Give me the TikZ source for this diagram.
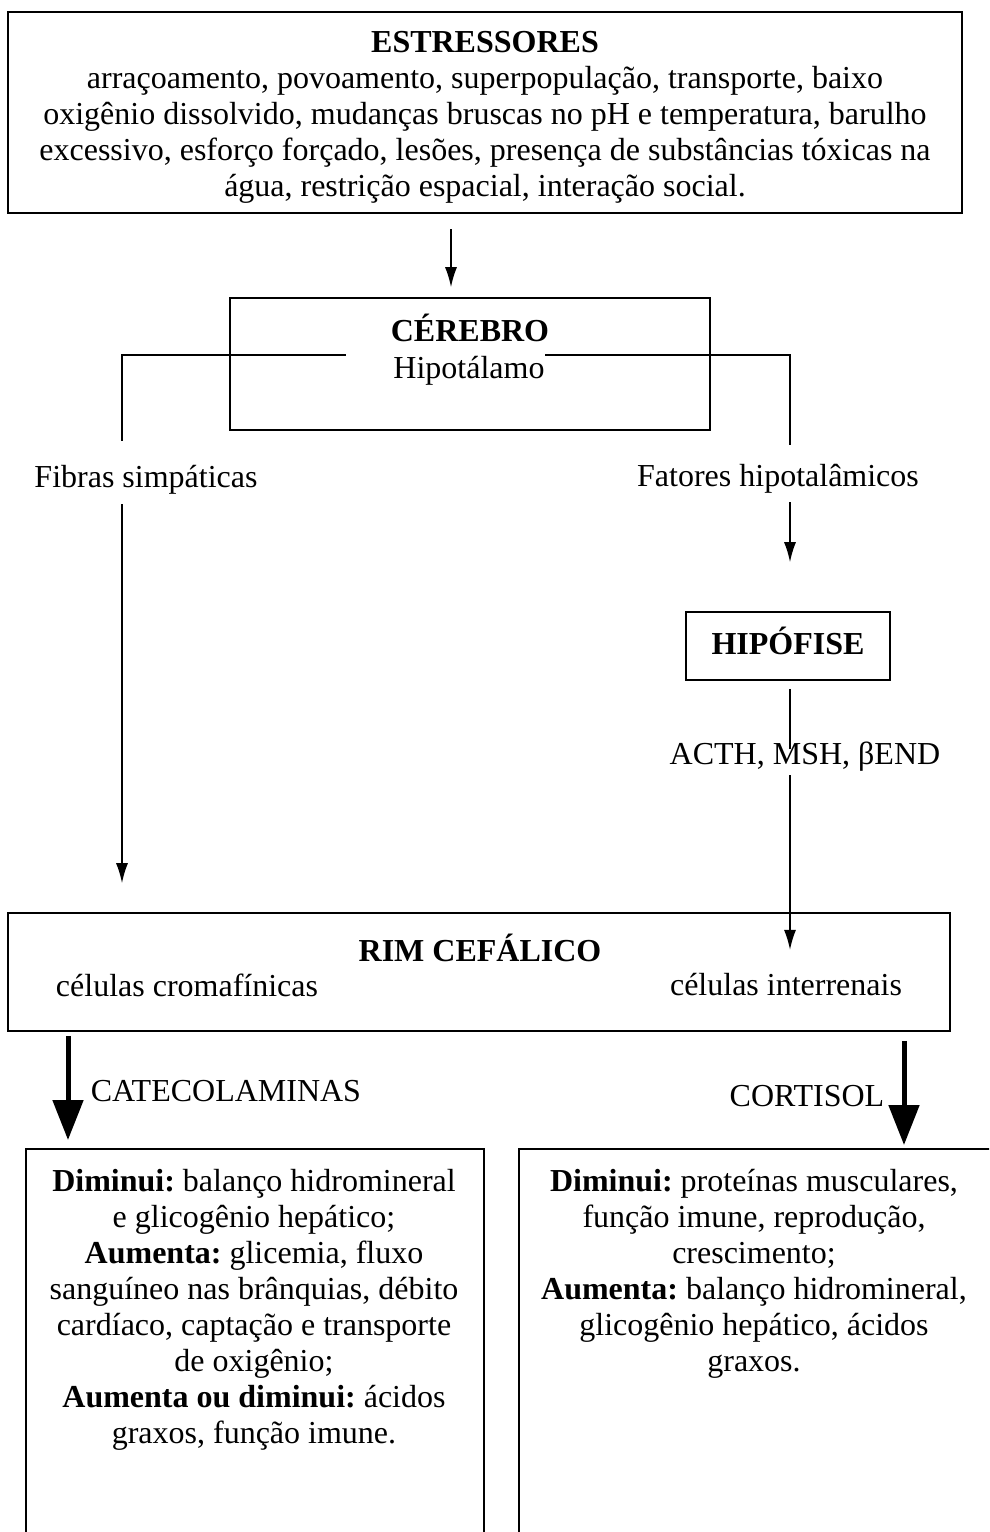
\documentclass[tikz,border=0pt]{standalone}
\usepackage{fontspec}
\setmainfont{Liberation Serif}
\usetikzlibrary{arrows.meta}
\frenchspacing
\begin{document}
\begin{tikzpicture}[x=1pt, y=-1pt, line width=1.6pt,
  font=\fontsize{32}{36}\selectfont, inner sep=3pt,
  box/.style={draw, inner sep=0pt},
  >={Latex[length=20pt,width=12pt]},
  bigarrow/.style={line width=5pt, -{Triangle[length=40pt,width=30pt]}}]
\useasboundingbox (0,0) rectangle (989,1532);
\node[box, line width=2.2pt, minimum width=954pt, minimum height=201pt] (stress) at (485,112.5) {};
\node[align=center] (stresstxt) at (485,117) {\textbf{ESTRESSORES}\\ arraçoamento, povoamento, superpopulação, transporte, baixo\\ oxigênio dissolvido, mudanças bruscas no pH e temperatura, barulho\\ excessivo, esforço forçado, lesões, presença de substâncias tóxicas na\\ água, restrição espacial, interação social.};
\node[box, minimum width=480pt, minimum height=132pt] (cerebro) at (470,364) {};
\node (cerebrotxt) at (470,328) {\textbf{CÉREBRO}};
\node (hipo) at (469,371) {Hipotálamo};
\node (fibras) at (146,480) {Fibras simpáticas};
\node (fatores) at (778,479) {Fatores hipotalâmicos};
\node[box, minimum width=204pt, minimum height=68pt, text height=22pt, text depth=6pt] (hipofise) at (788,646) {\textbf{HIPÓFISE}};
\node (acth) at (805,757) {ACTH, MSH, βEND};
\node[box, minimum width=942pt, minimum height=118pt] (rim) at (479,972) {};
\node (rimtxt) at (480,948) {\textbf{RIM CEFÁLICO}};
\node (cromaf) at (187,985) {células cromafínicas};
\node (interr) at (786,985) {células interrenais};
\node[anchor=west] (catecol) at (87,1091) {CATECOLAMINAS};
\node[anchor=east] (cortisol) at (888,1096) {CORTISOL};
\begin{scope}
\clip (0,0) rectangle (989,1532);
\node[box, anchor=north west, minimum width=458pt, minimum height=420pt] (catbox) at (25,1148) {};
\node[box, anchor=north west, minimum width=490pt, minimum height=420pt] (cortbox) at (518,1148) {};
\end{scope}
\node[anchor=north, align=center, inner sep=0pt] (cattxt) at (254,1168) {\textbf{Diminui:} balanço hidromineral\\ e glicogênio hepático;\\ \textbf{Aumenta:} glicemia, fluxo\\ sanguíneo nas brânquias, débito\\ cardíaco, captação e transporte\\ de oxigênio;\\ \textbf{Aumenta ou diminui:} ácidos\\ graxos, função imune.};
\node[anchor=north, align=center, inner sep=0pt] (corttxt) at (754,1168) {\textbf{Diminui:} proteínas musculares,\\ função imune, reprodução,\\ crescimento;\\ \textbf{Aumenta:} balanço hidromineral,\\ glicogênio hepático, ácidos\\ graxos.};
% connectors
\coordinate (arrx) at (451,0);
\coordinate (lturn) at (122,355);
\coordinate (rturn) at (790,355);
\coordinate (catx) at (68,0);
\coordinate (cortx) at (904,0);
\draw[->, shorten <=15pt, shorten >=10pt] (stress.south -| arrx) -- (cerebro.north -| arrx);
\draw[shorten <=44pt, shorten >=21pt] (hipo.west |- lturn) -- (lturn) -- (lturn |- fibras.north);
\draw[shorten <=-3pt, shorten >=16pt] (hipo.east |- rturn) -- (rturn) -- (rturn |- fatores.north);
\draw[->, shorten <=5pt, shorten >=49pt] (rturn |- fatores.south) -- (rturn |- hipofise.north);
\draw[shorten <=8pt, shorten >=-10pt] (rturn |- hipofise.south) -- (rturn |- acth.north);
\draw[->, shorten <=0pt, shorten >=20pt] (rturn |- acth.south) -- (rturn |- interr.north);
\draw[->, shorten <=6pt, shorten >=29pt] (lturn |- fibras.south) -- (lturn |- rim.north);
\draw[bigarrow, shorten <=4pt, shorten >=8pt] (rim.south -| catx) -- (catbox.north -| catx);
\draw[bigarrow, shorten <=9pt, shorten >=3pt] (rim.south -| cortx) -- (cortbox.north -| cortx);
\end{tikzpicture}
\end{document}
